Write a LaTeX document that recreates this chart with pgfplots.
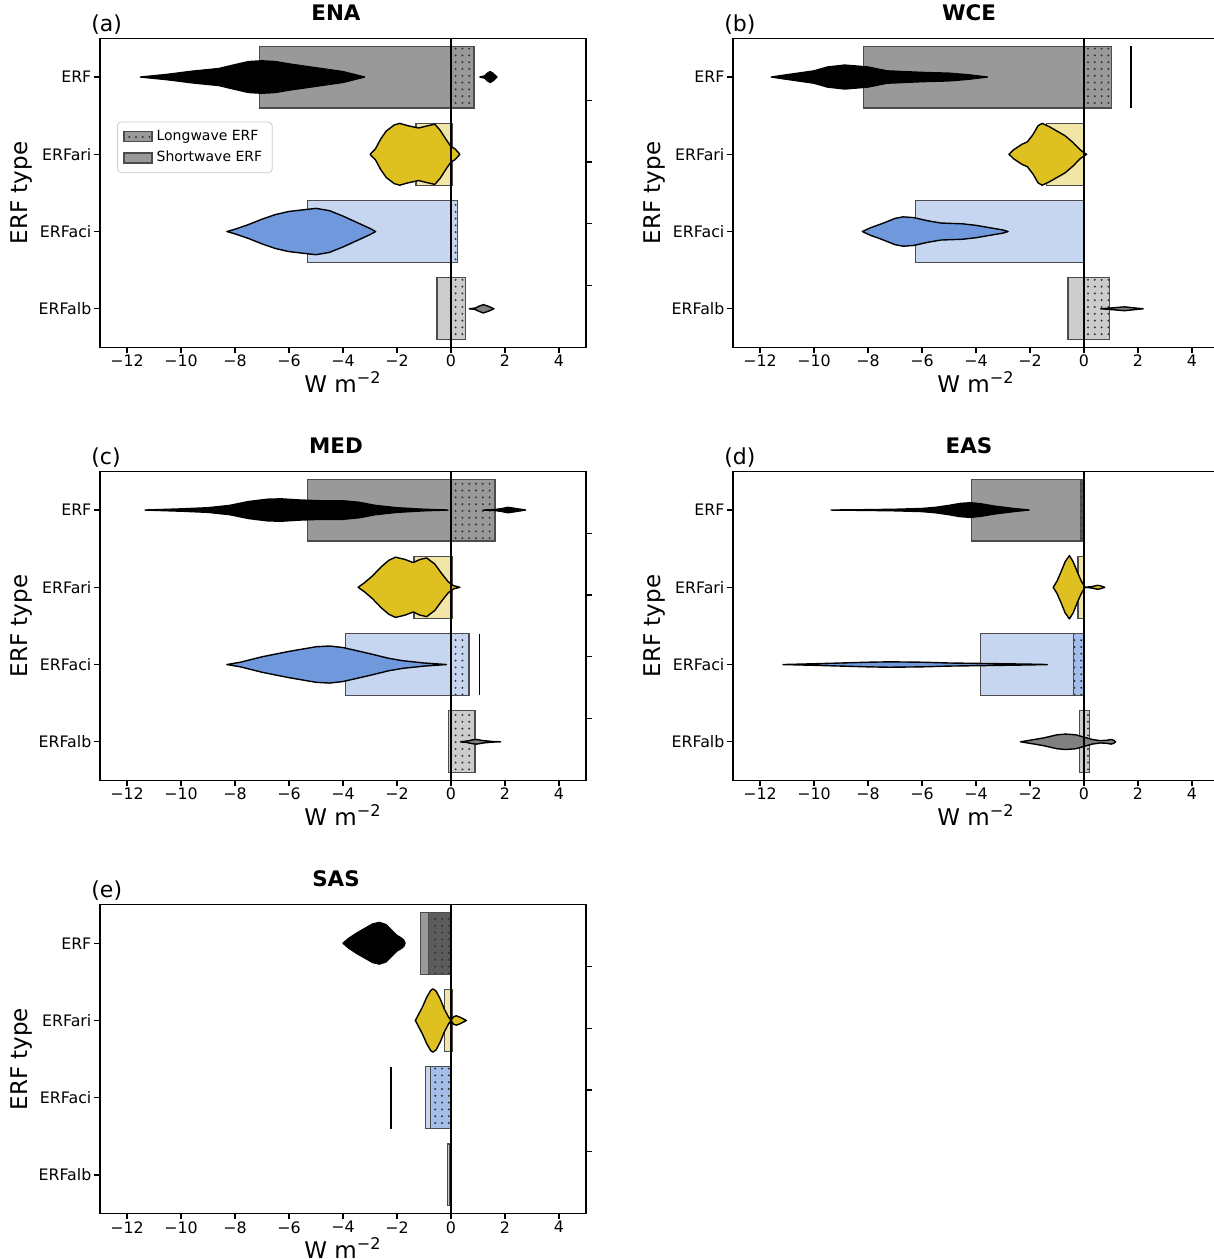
\documentclass[border=0pt]{standalone}
\usepackage{fontspec}
\setmainfont{DejaVu Sans}
\usepackage{pgfplots}
\pgfplotsset{compat=1.18}
\usetikzlibrary{patterns.meta}

\definecolor{cERF}{RGB}{0,0,0}
\definecolor{cari}{RGB}{222,193,33}
\definecolor{caci}{RGB}{112,153,221}
\definecolor{calb}{RGB}{128,128,128}

\pgfplotsset{
  erf/.style={
    anchor=north west, scale only axis, width=243pt, height=154.5pt,
    xmin=-13, xmax=5, ymin=-0.5, ymax=3.5, y dir=reverse,
    xtick={-12,-10,-8,-6,-4,-2,0,2,4},
    xticklabels={−12,−10,−8,−6,−4,−2,0,2,4},
    ytick={0,1,2,3}, yticklabels={ERF,ERFari,ERFaci,ERFalb},
    xtick pos=bottom, ytick pos=left, tick align=outside,
    major tick length=2.8pt,
    every tick/.style={black, line width=0.6pt},
    axis line style={black, line width=0.65pt},
    tick label style={font=\fontsize{7.9}{9}\selectfont},
    xticklabel style={yshift=2.5pt},
    yticklabel style={xshift=2pt},
    xlabel={W m\textsuperscript{−2}},
    ylabel={ERF type},
    xlabel style={font=\fontsize{11.5}{13}\selectfont, at={(axis description cs:0.5,-0.1456)}, anchor=base},
    ylabel style={font=\fontsize{11.5}{13}\selectfont, at={(axis description cs:-0.1605,0.5)}, anchor=center},
    title style={font=\fontsize{10.7}{12}\selectfont\bfseries, at={(axis description cs:0.4856,1.0453)}, anchor=center},
  },
  plabel/.style={extra description/.code={%
    \node[anchor=west, inner sep=0pt, font=\fontsize{11}{13}\selectfont] at (-0.0185,1.0453) {#1};}},
}

% shortwave bar, then longwave bar (dotted) for one category
\newcommand\bars[4]{%
  \addplot[xbar, bar shift=0pt, bar width=0.8, fill=#4, fill opacity=0.4, draw=black!70, line width=0.6pt] coordinates {(#2,#1)};
  \addplot[xbar, bar shift=0pt, bar width=0.8, fill=#4, fill opacity=0.4, draw=black!70, line width=0.6pt,
    postaction={fill opacity=1, pattern={Dots[distance=3.4pt,radius=0.55pt]}, pattern color=black!80}] coordinates {(#3,#1)};
}

% violin: centre, colour, list of x/half-width
\newcommand\violin[3]{%
  \gdef\vup{}\gdef\vdn{}%
  \foreach \vx/\vh in {#3}{%
    \pgfmathsetmacro\ya{#1-\vh}\pgfmathsetmacro\yb{#1+\vh}%
    \xdef\vup{\vup(\vx,\ya) }\xdef\vdn{(\vx,\yb) \vdn}%
  }%
  \edef\vcmd{\noexpand\addplot[fill=#2, draw=black, line width=0.7pt, line join=round] coordinates {\vup\vdn} --cycle;}%
  \vcmd
}

\newcommand\zeroline{\addplot[black, line width=1pt] coordinates {(0,-0.5) (0,3.5)};}

\newcommand\twin[1]{%
  \begin{axis}[at={#1}, anchor=north west, scale only axis, width=243pt, height=154.5pt,
    xmin=0, xmax=1, ymin=0, ymax=1, axis x line=none, axis y line*=right,
    ytick={0.2,0.4,0.6,0.8}, yticklabels={}, tick align=outside, major tick length=2.8pt,
    every tick/.style={black, line width=0.6pt}, axis line style={black, line width=0.65pt}]
  \end{axis}}

\begin{document}
\begin{tikzpicture}

% (a) ENA
\begin{axis}[erf, at={(50pt,-19.2pt)}, title={ENA}, plabel={(a)},
  legend style={at={(axis description cs:0.035,0.731)}, anchor=north west,
    font=\fontsize{7}{8.5}\selectfont, draw=black!20, rounded corners=2pt, cells={anchor=west}}]
\addlegendimage{legend image code/.code={\draw[sharp corners, fill=black, fill opacity=0.4, draw=black!70, line width=0.6pt,
    postaction={fill opacity=1, pattern={Dots[distance=3.4pt,radius=0.55pt]}, pattern color=black!80}] (0pt,-2.5pt) rectangle (14pt,2.5pt);}}
\addlegendentry{Longwave ERF}
\addlegendimage{legend image code/.code={\draw[sharp corners, fill=black, fill opacity=0.4, draw=black!70, line width=0.6pt] (0pt,-2.5pt) rectangle (14pt,2.5pt);}}
\addlegendentry{Shortwave ERF}
\bars{0}{-7.08}{0.85}{cERF}
\bars{1}{-1.30}{0.04}{cari}
\bars{2}{-5.31}{0.23}{caci}
\bars{3}{-0.52}{0.54}{calb}
\violin{0}{cERF}{-11.5/0, -10.5/0.035, -9.6/0.075, -8.6/0.11, -8.0/0.16, -7.5/0.2, -7.0/0.21, -6.5/0.2, -6.0/0.17, -5.0/0.12, -4.0/0.07, -3.2/0}
\violin{0}{cERF}{1.07/0, 1.25/0.015, 1.35/0.05, 1.45/0.07, 1.55/0.05, 1.7/0}
\violin{1}{cari}{-3.0/0, -2.8/0.07, -2.6/0.2, -2.4/0.3, -2.1/0.38, -1.9/0.40, -1.6/0.37, -1.2/0.34, -0.85/0.37, -0.6/0.39, -0.4/0.31, -0.16/0.18, 0/0.1, 0.15/0.07, 0.33/0}
\violin{2}{caci}{-8.3/0, -8.0/0.03, -7.5/0.09, -7.0/0.16, -6.5/0.22, -6.0/0.26, -5.5/0.28, -5.0/0.30, -4.5/0.27, -4.0/0.2, -3.5/0.12, -3.0/0.04, -2.79/0}
\violin{3}{calb}{0.68/0, 0.9/0.01, 1.05/0.035, 1.2/0.054, 1.4/0.03, 1.59/0}
\zeroline
\end{axis}
\twin{(50pt,-19.2pt)}

% (b) WCE
\begin{axis}[erf, at={(366.5pt,-19.2pt)}, title={WCE}, plabel={(b)}]
\bars{0}{-8.18}{1.01}{cERF}
\bars{1}{-1.40}{0.03}{cari}
\bars{2}{-6.23}{0.02}{caci}
\bars{3}{-0.59}{0.93}{calb}
\violin{0}{cERF}{-11.58/0, -11/0.03, -10/0.08, -9.5/0.13, -8.86/0.155, -8/0.13, -7.3/0.08, -6/0.06, -5/0.05, -4.3/0.03, -3.58/0}
\addplot[black, line width=0.75pt] coordinates {(1.74,-0.4) (1.74,0.4)};
\violin{1}{cari}{-2.78/0, -2.6/0.06, -2.3/0.13, -2.1/0.16, -1.9/0.25, -1.7/0.37, -1.55/0.40, -1.3/0.36, -1.0/0.3, -0.7/0.24, -0.4/0.15, -0.15/0.06, 0.0/0.02, 0.1/0}
\violin{2}{caci}{-8.21/0, -7.9/0.05, -7.5/0.1, -7.0/0.17, -6.7/0.19, -6.3/0.18, -5.8/0.14, -5.3/0.11, -4.5/0.1, -4.0/0.08, -3.5/0.05, -3.0/0.02, -2.81/0}
\violin{3}{calb}{0.62/0, 1.0/0.01, 1.5/0.025, 1.9/0.01, 2.19/0}
\zeroline
\end{axis}
\twin{(366.5pt,-19.2pt)}

% (c) MED
\begin{axis}[erf, at={(50pt,-235.7pt)}, title={MED}, plabel={(c)}]
\bars{0}{-5.31}{1.63}{cERF}
\bars{1}{-1.37}{0.04}{cari}
\bars{2}{-3.92}{0.67}{caci}
\bars{3}{-0.10}{0.89}{calb}
\violin{0}{cERF}{-11.33/0, -10/0.015, -9/0.03, -8.2/0.06, -7.5/0.11, -6.8/0.14, -6.3/0.145, -5.6/0.13, -4.8/0.12, -4.0/0.12, -3.4/0.1, -2.8/0.06, -2.0/0.03, -1.0/0.01, -0.11/0}
\violin{0}{cERF}{1.2/0, 1.6/0.005, 1.9/0.02, 2.1/0.035, 2.4/0.02, 2.76/0}
\violin{1}{cari}{-3.44/0, -3.2/0.06, -2.9/0.15, -2.6/0.26, -2.3/0.35, -2.05/0.39, -1.7/0.36, -1.4/0.32, -1.15/0.36, -0.9/0.38, -0.6/0.3, -0.35/0.18, -0.1/0.07, 0.1/0.02, 0.33/0}
\violin{2}{caci}{-8.3/0, -7.8/0.03, -7.0/0.1, -6.0/0.17, -5.0/0.23, -4.5/0.24, -4.0/0.22, -3.0/0.14, -2.3/0.08, -1.8/0.05, -1.0/0.02, -0.17/0}
\addplot[black, line width=0.75pt] coordinates {(1.06,1.6) (1.06,2.4)};
\violin{3}{calb}{0.35/0, 0.6/0.01, 0.8/0.025, 0.95/0.03, 1.2/0.015, 1.5/0.005, 1.84/0}
\zeroline
\end{axis}
\twin{(50pt,-235.7pt)}

% (d) EAS
\begin{axis}[erf, at={(366.5pt,-235.7pt)}, title={EAS}, plabel={(d)}]
\bars{0}{-4.18}{-0.13}{cERF}
\bars{1}{-0.22}{0.03}{cari}
\bars{2}{-3.82}{-0.39}{caci}
\bars{3}{-0.17}{0.19}{calb}
\violin{0}{cERF}{-9.37/0, -8/0.005, -7/0.01, -6/0.02, -5.5/0.035, -5/0.06, -4.6/0.085, -4.2/0.095, -3.8/0.08, -3.3/0.05, -2.6/0.02, -2.03/0}
\violin{1}{cari}{-1.14/0, -1.0/0.08, -0.85/0.2, -0.7/0.33, -0.54/0.41, -0.4/0.33, -0.25/0.2, -0.1/0.08, 0.04/0}
\violin{1}{cari}{0.04/0, 0.3/0.01, 0.5/0.025, 0.6/0.02, 0.77/0}
\violin{2}{caci}{-11.15/0, -10/0.01, -9/0.02, -8/0.03, -7.2/0.035, -6/0.03, -5/0.02, -4/0.015, -3/0.01, -2/0.005, -1.36/0}
\violin{3}{calb}{-2.35/0, -2.0/0.02, -1.5/0.05, -1.0/0.09, -0.68/0.1, -0.3/0.09, 0/0.06, 0.3/0.03, 0.6/0.015, 0.85/0.02, 1.0/0.03, 1.1/0.02, 1.17/0}
\zeroline
\end{axis}
\twin{(366.5pt,-235.7pt)}

% (e) SAS
\begin{axis}[erf, at={(50pt,-452.3pt)}, title={SAS}, plabel={(e)}]
\bars{0}{-1.13}{-0.82}{cERF}
\bars{1}{-0.24}{0.07}{cari}
\bars{2}{-0.95}{-0.75}{caci}
\bars{3}{-0.14}{-0.05}{calb}
\violin{0}{cERF}{-4.0/0, -3.8/0.06, -3.5/0.13, -3.2/0.19, -2.9/0.25, -2.65/0.27, -2.4/0.24, -2.2/0.17, -2.0/0.1, -1.85/0.07, -1.75/0.04, -1.7/0}
\violin{1}{cari}{-1.32/0, -1.2/0.08, -1.05/0.18, -0.9/0.3, -0.75/0.39, -0.67/0.41, -0.55/0.38, -0.4/0.28, -0.25/0.15, -0.1/0.05, 0/0}
\violin{1}{cari}{0/0, 0.1/0.05, 0.2/0.06, 0.35/0.04, 0.57/0}
\addplot[black, line width=0.75pt] coordinates {(-2.22,1.6) (-2.22,2.4)};
\zeroline
\end{axis}
\twin{(50pt,-452.3pt)}

\pgfresetboundingbox
\useasboundingbox (0,0) rectangle (607pt,-629.5pt);
\end{tikzpicture}
\end{document}
